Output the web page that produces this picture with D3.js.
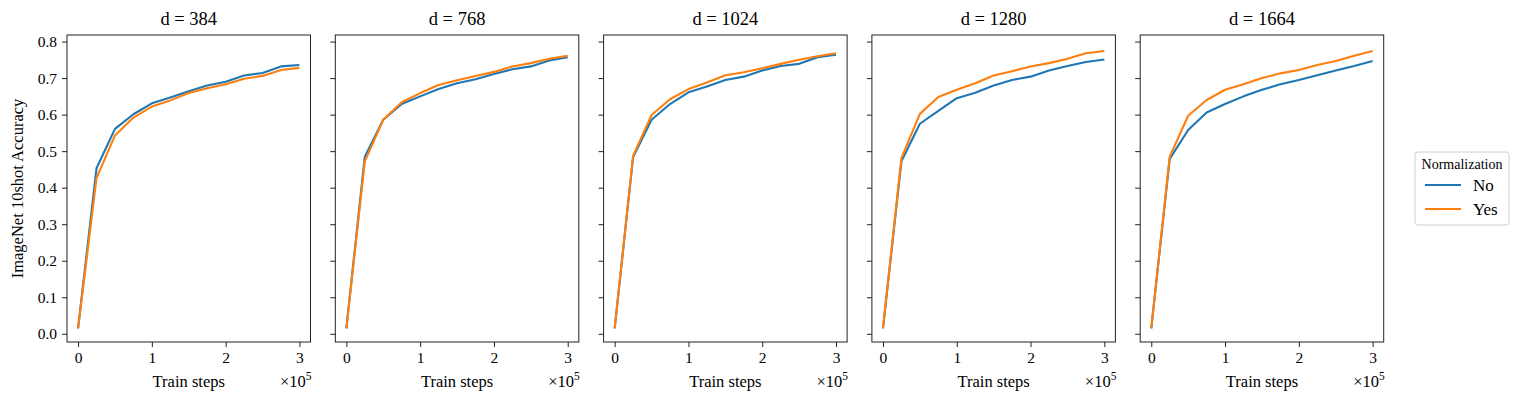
<!DOCTYPE html>
<html>
<head>
<meta charset="utf-8">
<script src="https://cdnjs.cloudflare.com/ajax/libs/d3/7.8.5/d3.min.js"></script>
<style>
  body { margin: 0; background: #fff; }
  text { font-family: "Liberation Serif", "Times New Roman", serif; fill: #000; }
</style>
</head>
<body>
<svg id="chart"></svg>
<script>
// train steps (x axis), one point every 25k steps
var steps = [0, 25000, 50000, 75000, 100000, 125000, 150000, 175000, 200000, 225000, 250000, 275000, 300000];
var widths = [384, 768, 1024, 1280, 1664];
var xTicks = [0, 100000, 200000, 300000];
var yTicks = [0.0, 0.1, 0.2, 0.3, 0.4, 0.5, 0.6, 0.7, 0.8];
var seriesNames = ["No", "Yes"];

// ImageNet 10shot accuracy, no normalization
var noNorm384  = [0.015, 0.453, 0.561, 0.601, 0.631, 0.647, 0.664, 0.680, 0.690, 0.707, 0.714, 0.732, 0.736];
var noNorm768  = [0.015, 0.485, 0.586, 0.629, 0.650, 0.670, 0.686, 0.697, 0.711, 0.724, 0.732, 0.748, 0.757];
var noNorm1024 = [0.015, 0.484, 0.586, 0.629, 0.661, 0.677, 0.695, 0.704, 0.721, 0.733, 0.739, 0.757, 0.764];
var noNorm1280 = [0.015, 0.472, 0.575, 0.610, 0.645, 0.660, 0.680, 0.695, 0.704, 0.721, 0.733, 0.744, 0.751];
var noNorm1664 = [0.015, 0.479, 0.558, 0.606, 0.629, 0.650, 0.668, 0.683, 0.695, 0.708, 0.721, 0.733, 0.747];

// with normalization
var yesNorm384  = [0.015, 0.426, 0.543, 0.592, 0.622, 0.639, 0.659, 0.672, 0.683, 0.698, 0.706, 0.722, 0.728];
var yesNorm768  = [0.015, 0.472, 0.586, 0.634, 0.659, 0.681, 0.694, 0.706, 0.717, 0.732, 0.741, 0.753, 0.761];
var yesNorm1024 = [0.015, 0.487, 0.599, 0.642, 0.670, 0.688, 0.708, 0.716, 0.727, 0.739, 0.750, 0.760, 0.768];
var yesNorm1280 = [0.015, 0.481, 0.602, 0.648, 0.668, 0.686, 0.707, 0.719, 0.732, 0.741, 0.753, 0.768, 0.774];
var yesNorm1664 = [0.015, 0.485, 0.597, 0.640, 0.668, 0.683, 0.700, 0.713, 0.722, 0.736, 0.747, 0.761, 0.774];

var noNorm  = [noNorm384, noNorm768, noNorm1024, noNorm1280, noNorm1664];
var yesNorm = [yesNorm384, yesNorm768, yesNorm1024, yesNorm1280, yesNorm1664];

var screenSettings = { width: 1522, height: 403 };

var marginSettings = {
  top: 35,
  left: 67,
  panelWidth: 243.5,
  panelHeight: 307,
  panelStep: 268.3
};

var colors = { No: "#1f77b4", Yes: "#ff7f0e" };

var drawPanels = function(svgSelector, screen, margins)
{
  var svg = d3.select(svgSelector)
              .attr("width", screen.width)
              .attr("height", screen.height);

  // matplotlib-style autoscale: 5% padding on both axes
  var xScale = d3.scaleLinear()
                 .domain([-15000, 315000])
                 .range([0, margins.panelWidth]);

  var yScale = d3.scaleLinear()
                 .domain([-0.0225, 0.818])
                 .range([margins.panelHeight, 0]);

  var lineDrawer = d3.line()
                     .x(function(d, i){ return xScale(steps[i]); })
                     .y(function(d){ return yScale(d); });

  widths.forEach(function(w, p){
    var g = svg.append("g")
               .attr("transform", "translate(" + (margins.left + p * margins.panelStep) + "," + margins.top + ")");

    var xAxis = d3.axisBottom(xScale)
                  .tickValues(xTicks)
                  .tickSize(5)
                  .tickPadding(5)
                  .tickFormat(function(d){ return d / 100000; });

    var yAxis = d3.axisLeft(yScale)
                  .tickValues(yTicks)
                  .tickSize(5)
                  .tickPadding(5)
                  .tickFormat(p == 0 ? d3.format(".1f") : "");

    var gx = g.append("g")
              .attr("transform", "translate(0," + margins.panelHeight + ")")
              .call(xAxis);
    var gy = g.append("g").call(yAxis);

    [gx, gy].forEach(function(a){
      a.select(".domain").remove();
      a.selectAll("line").attr("stroke", "#222").attr("stroke-width", 1);
      a.selectAll("text").attr("font-size", 15.5).attr("font-family", "Liberation Serif");
    });

    // series lines
    g.append("path")
     .datum(noNorm[p])
     .attr("d", lineDrawer)
     .attr("fill", "none")
     .attr("stroke", colors.No)
     .attr("stroke-width", 2.1)
     .attr("stroke-linejoin", "round");

    g.append("path")
     .datum(yesNorm[p])
     .attr("d", lineDrawer)
     .attr("fill", "none")
     .attr("stroke", colors.Yes)
     .attr("stroke-width", 2.1)
     .attr("stroke-linejoin", "round");

    // frame
    g.append("rect")
     .attr("x", 0)
     .attr("y", 0)
     .attr("width", margins.panelWidth)
     .attr("height", margins.panelHeight)
     .attr("fill", "none")
     .style("stroke", "#222")
     .style("stroke-width", 1);

    g.append("text")
     .text("d = " + w)
     .attr("x", margins.panelWidth / 2)
     .attr("y", -10)
     .attr("text-anchor", "middle")
     .attr("font-size", 18.5);

    g.append("text")
     .text("Train steps")
     .attr("x", margins.panelWidth / 2)
     .attr("y", margins.panelHeight + 45)
     .attr("text-anchor", "middle")
     .attr("font-size", 16.5);

    var mult = g.append("text")
                .attr("x", margins.panelWidth + 1)
                .attr("y", margins.panelHeight + 45)
                .attr("text-anchor", "end")
                .attr("font-size", 16.5);
    mult.append("tspan").text("\u00d710");
    mult.append("tspan").text("5").attr("font-size", 11.5).attr("dy", -7);
  });

  svg.append("text")
     .text("ImageNet 10shot Accuracy")
     .attr("transform", "translate(23," + (margins.top + margins.panelHeight / 2) + ") rotate(-90)")
     .attr("text-anchor", "middle")
     .attr("font-size", 16.5);

  // legend
  var legend = svg.append("g").attr("transform", "translate(1415,152)");
  legend.append("rect")
        .attr("width", 94)
        .attr("height", 73)
        .attr("rx", 3)
        .attr("fill", "#fff")
        .attr("fill-opacity", 0.8)
        .attr("stroke", "#d0d0d0")
        .attr("stroke-width", 1);
  legend.append("text")
        .text("Normalization")
        .attr("x", 47)
        .attr("y", 17)
        .attr("text-anchor", "middle")
        .attr("font-size", 14);
  seriesNames.forEach(function(name, i){
    legend.append("line")
          .attr("x1", 10).attr("x2", 46)
          .attr("y1", 33 + i * 24).attr("y2", 33 + i * 24)
          .attr("stroke", colors[name])
          .attr("stroke-width", 2.1);
    legend.append("text")
          .text(name)
          .attr("x", 58)
          .attr("y", 39 + i * 24)
          .attr("font-size", 17);
  });
};

drawPanels("#chart", screenSettings, marginSettings);
</script>
</body>
</html>
